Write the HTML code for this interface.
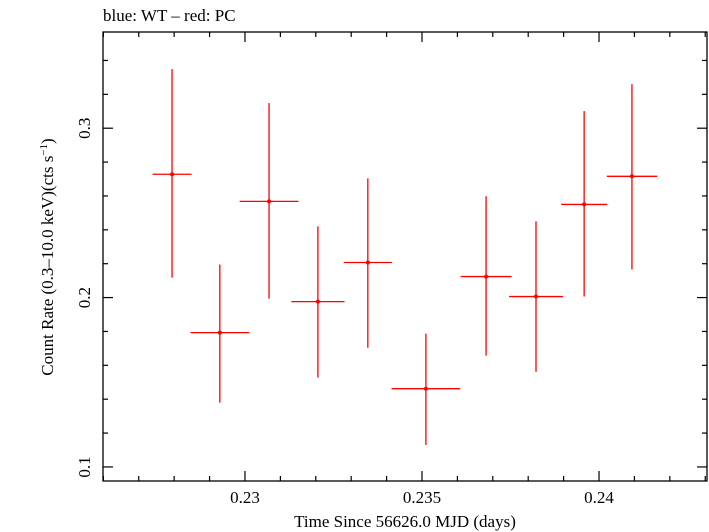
<!DOCTYPE html>
<html><head><meta charset="utf-8"><style>
html,body{margin:0;padding:0;background:#fff;}
svg{display:block;font-family:"Liberation Serif",serif;}
</style></head><body>
<svg id="chart" width="709" height="532">
<text x="103" y="21" font-size="17">blue: WT – red: PC</text>
<rect x="103" y="32" width="604" height="449" fill="none" stroke="#000" stroke-width="1.3"/>
<g id="axes"></g>
<g id="marks"></g>
<text x="405" y="527" font-size="17" text-anchor="middle">Time Since 56626.0 MJD (days)</text>
<text transform="translate(53,257) rotate(-90)" font-size="17" text-anchor="middle">Count Rate (0.3–10.0 keV)(cts s<tspan font-size="11" dy="-6">−1</tspan><tspan dy="6">)</tspan></text>
</svg>
<script>
const times=[0.22794,0.22929,0.23068,0.23206,0.23347,0.23511,0.23681,0.23822,0.23958,0.24093];
const timeErr=[0.00055,0.00083,0.00083,0.00075,0.00068,0.00097,0.00072,0.00076,0.00065,0.00071];
const rates=[0.2728,0.1793,0.2568,0.1976,0.2207,0.1462,0.2124,0.2006,0.2550,0.2716];
const rateHi=[0.3349,0.2195,0.3148,0.2420,0.2704,0.1787,0.2598,0.2450,0.3101,0.3260];
const rateLo=[0.2118,0.1379,0.1994,0.1527,0.1704,0.1130,0.1657,0.1562,0.2006,0.2166];
const xTicks=[0.23,0.235,0.24];
const xTickLabels=["0.23","0.235","0.24"];
const yTicks=[0.1,0.2,0.3];
const yTickLabels=["0.1","0.2","0.3"];
const NS="http://www.w3.org/2000/svg";
const L=103,R=707,T=32,B=481;
const x0=0.22599,x1=0.24305,y0=0.0917,y1=0.3568;
const sx=v=>L+(v-x0)/(x1-x0)*(R-L);
const sy=v=>B-(v-y0)/(y1-y0)*(B-T);
function mk(tag,attrs,parent){const e=document.createElementNS(NS,tag);for(const k in attrs)e.setAttribute(k,attrs[k]);parent.appendChild(e);return e;}
const axes=document.getElementById('axes');
const marks=document.getElementById('marks');
// x ticks: minor every 0.001
for(let i=Math.ceil(x0*1000);i<=Math.floor(x1*1000);i++){
  const v=i/1000;const major=(i%5===0);const len=major?10:5;const px=sx(v);
  const t1=mk('line',{x1:px,x2:px,y1:B,y2:B-len,stroke:'#000','stroke-width':1.2},axes);
  
  
  const t2=mk('line',{x1:px,x2:px,y1:T,y2:T+len,stroke:'#000','stroke-width':1.2},axes);
  
  
}
xTicks.forEach((v,i)=>{
  const t=mk('text',{x:sx(v),y:503,'font-size':17,'text-anchor':'middle'},axes);
  t.textContent=xTickLabels[i];
  
  
});
// y ticks: minor every 0.02
for(let i=Math.ceil(y0*50);i<=Math.floor(y1*50);i++){
  const v=i/50;const major=(i%5===0);const len=major?10:5;const py=sy(v);
  const t1=mk('line',{x1:L,x2:L+len,y1:py,y2:py,stroke:'#000','stroke-width':1.2},axes);
  
  
  const t2=mk('line',{x1:R,x2:R-len,y1:py,y2:py,stroke:'#000','stroke-width':1.2},axes);
  
  
}
yTicks.forEach((v,i)=>{
  const t=mk('text',{transform:`translate(90,${sy(v)}) rotate(-90)`,'font-size':17,'text-anchor':'middle'},axes);
  t.textContent=yTickLabels[i];
  
  
});
times.forEach((t,i)=>{
  const g=mk('g',{},marks);
  
  
  mk('line',{x1:sx(t-timeErr[i]),x2:sx(t+timeErr[i]),y1:sy(rates[i]),y2:sy(rates[i]),stroke:'#f00','stroke-width':1.3},g);
  mk('line',{x1:sx(t),x2:sx(t),y1:sy(rateHi[i]),y2:sy(rateLo[i]),stroke:'#f00','stroke-width':1.3},g);
  mk('circle',{cx:sx(t),cy:sy(rates[i]),r:2,fill:'#f00'},g);
});
</script>
</body></html>
